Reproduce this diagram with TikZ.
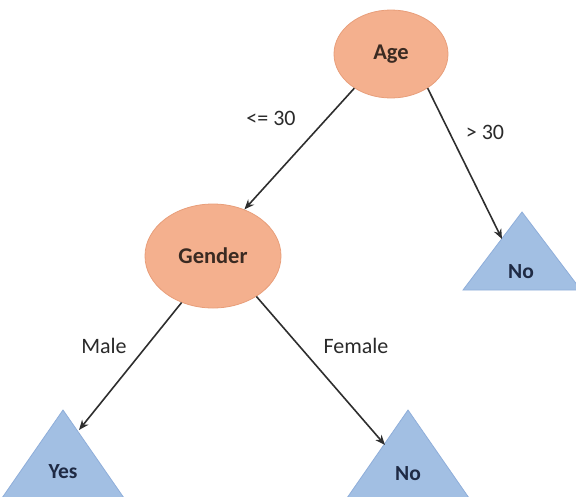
\documentclass[tikz,border=0pt]{standalone}
\usepackage{fontspec}
\setmainfont{Carlito}
\usetikzlibrary{shapes.geometric,arrows.meta}
\definecolor{ellfill}{HTML}{F4B08E}
\definecolor{elldraw}{HTML}{E89E7A}
\definecolor{trifill}{HTML}{A2BFE3}
\definecolor{tridraw}{HTML}{8FAEDA}
\definecolor{nodetext}{HTML}{3A2A22}
\definecolor{tritext}{HTML}{1F2A44}
\definecolor{edgecol}{HTML}{2E2E2E}
\definecolor{labcol}{HTML}{2A2A2A}
\tikzset{
  ell/.style={ellipse, fill=ellfill, draw=elldraw, line width=0.8pt, inner sep=0pt,
    font=\fontsize{22.5}{26}\selectfont\bfseries, text=nodetext},
  tri/.style={fill=trifill, draw=tridraw, line width=0.8pt},
  tritxt/.style={font=\fontsize{21.5}{26}\selectfont\bfseries, text=tritext, inner sep=0pt},
  lab/.style={font=\fontsize{22}{26}\selectfont, text=labcol, inner sep=0pt},
  conn/.style={draw=edgecol, line width=1.6pt, -{Stealth[length=10pt,width=8pt]}}
}
\begin{document}
\begin{tikzpicture}[x=1pt,y=-1pt]
\useasboundingbox (0,0) rectangle (576,496);
\clip (0,0) rectangle (576,496);
% triangles
\draw[tri] (522,212) -- (463,290) -- (581,290) -- cycle;
\draw[tri] (63,410) -- (2,498) -- (124,498) -- cycle;
\draw[tri] (408,410) -- (347,498) -- (469,498) -- cycle;
\node[tritxt] (no1) at (521,272) {No};
\node[tritxt] (yes) at (63,472) {Yes};
\node[tritxt] (no2) at (408,474) {No};
\coordinate (no1in) at (502,239);
\coordinate (yesin) at (79,430);
\coordinate (no2in) at (385,445);
% ellipses
\node[ell, minimum width=114pt, minimum height=88pt] (age) at (391,54) {Age};
\node[ell, minimum width=136pt, minimum height=104pt] (gender) at (213,256) {Gender};
% connectors
\draw[conn] (age.223) -- (gender.56);
\draw[conn] (age.317) -- (no1in);
\draw[conn] (gender.236) -- (yesin);
\draw[conn] (gender.317) -- (no2in);
% labels
\node[lab] (l1) at (271,118) {<= 30};
\node[lab] (l2) at (485,132) {> 30};
\node[lab] (l3) at (104,346) {Male};
\node[lab] (l4) at (356,346) {Female};
\end{tikzpicture}
\end{document}
